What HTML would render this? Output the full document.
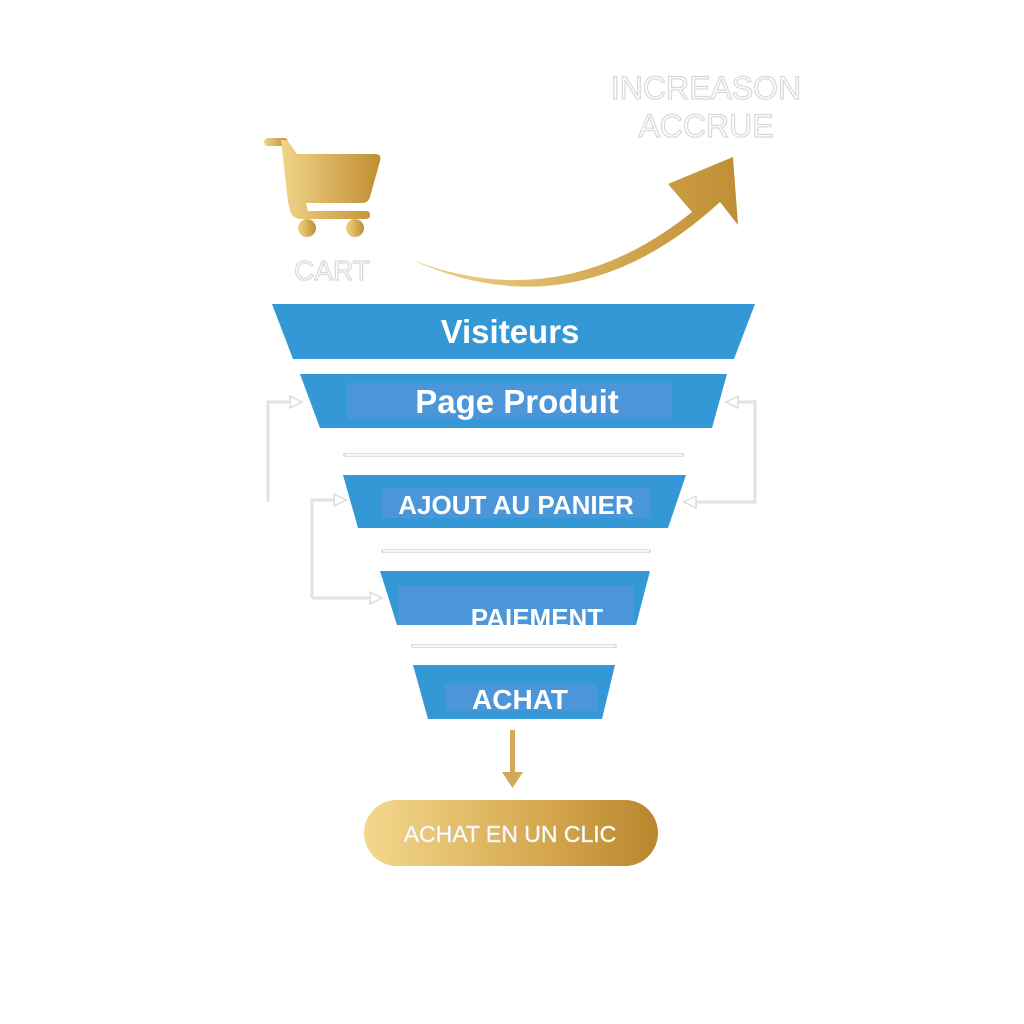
<!DOCTYPE html>
<html><head><meta charset="utf-8"><style>
html,body{margin:0;padding:0;background:#fff;}
svg{display:block}
</style></head><body>
<svg width="1024" height="1024" viewBox="0 0 1024 1024" xmlns="http://www.w3.org/2000/svg">
<defs>
<linearGradient id="gold" x1="0" x2="1" y1="0" y2="0">
<stop offset="0" stop-color="#f1d48a"/><stop offset="1" stop-color="#c08e32"/>
</linearGradient>
<linearGradient id="gold2" x1="0" x2="1" y1="0" y2="0">
<stop offset="0" stop-color="#f3d88e"/><stop offset="0.6" stop-color="#d6a84f"/><stop offset="1" stop-color="#b8862c"/>
</linearGradient>
</defs>
<rect width="1024" height="1024" fill="#fff"/>

<g font-family="Liberation Sans, sans-serif" font-size="32" fill="#fff" stroke="#d9d9d9" stroke-width="1.2" text-anchor="middle">
<text x="706" y="99">INCREASON</text>
<text x="706" y="137">ACCRUE</text>
<text x="332" y="280" font-size="28">CART</text>
</g>

<!-- cart -->
<g fill="url(#gold)">
<rect x="264" y="138" width="24" height="8" rx="4"/>
<path d="M281 140 l6 0 l10 14 l78 0 q7 0 5 7 l-10 36 q-2 6 -8 6 h-56 l2 8 h58 q4 0 4 4 v0 q0 4 -4 4 h-64 q-10 0 -12 -9 l-2 -8 Z"/>
<circle cx="307" cy="228" r="9"/><circle cx="355" cy="228" r="9"/>
</g>
<!-- curved arrow -->
<path d="M410 259 Q560 318 692 212 L668 184 L733 157 L738 225 L720 202 Q575 335 410 259 Z" fill="url(#gold)"/>

<g fill="#3498d6">
<polygon points="272,304 755,304 734,359 293,359"/>
<polygon points="300,374 727,374 712,428 320,428"/>
<polygon points="343,475 686,475 668,528 358,528"/>
<polygon points="380,571 650,571 636,625 397,625"/>
<polygon points="413,665 615,665 602,719 428,719"/>
</g>
<g fill="#4a96d8">
<rect x="347" y="383" width="325" height="36"/>
<rect x="382" y="488" width="269" height="30"/>
<rect x="398" y="586" width="236" height="39"/>
<rect x="445" y="683" width="152" height="28"/>
</g>
<g font-family="Liberation Sans, sans-serif" font-weight="bold" fill="#fff" text-anchor="middle">
<text x="510" y="343" font-size="33">Visiteurs</text>
<text x="517" y="413" font-size="33">Page Produit</text>
<text x="516" y="514" font-size="26">AJOUT AU PANIER</text>
<text x="537" y="627" font-size="26">PAIEMENT</text>
<text x="520" y="709" font-size="28">ACHAT</text>
</g>

<g stroke="#dedede" stroke-width="4" stroke-linecap="round">
<line x1="345" y1="455" x2="682" y2="455"/>
<line x1="383" y1="551" x2="649" y2="551"/>
<line x1="413" y1="646" x2="615" y2="646"/>
</g>
<g stroke="#fff" stroke-width="1.5">
<line x1="345" y1="455" x2="682" y2="455"/>
<line x1="383" y1="551" x2="649" y2="551"/>
<line x1="413" y1="646" x2="615" y2="646"/>
</g>

<g fill="none" stroke="#e2e2e2" stroke-width="3">
<polyline points="268,502 268,402 292,402"/>
<polyline points="312,598 312,500 336,500"/>
<polyline points="312,598 372,598"/>
<polyline points="755,400 755,502 694,502"/>
<polyline points="755,402 736,402"/>
</g>
<g fill="#fff" stroke="#dcdcdc" stroke-width="1.5">
<polygon points="290,396 302,402 290,408"/>
<polygon points="334,494 346,500 334,506"/>
<polygon points="370,592 382,598 370,604"/>
<polygon points="696,496 684,502 696,508"/>
<polygon points="738,396 726,402 738,408"/>
</g>

<rect x="510" y="730" width="5" height="44" fill="#d2aa5a"/>
<polygon points="502,772 523,772 512.5,788" fill="#d2aa5a"/>

<rect x="364" y="800" width="294" height="66" rx="33" fill="url(#gold2)"/>
<text x="510" y="842" font-family="Liberation Sans, sans-serif" font-size="23" fill="#fff" stroke="#e8e8e8" stroke-width="0.6" text-anchor="middle">ACHAT EN UN CLIC</text>
</svg>
</body></html>
